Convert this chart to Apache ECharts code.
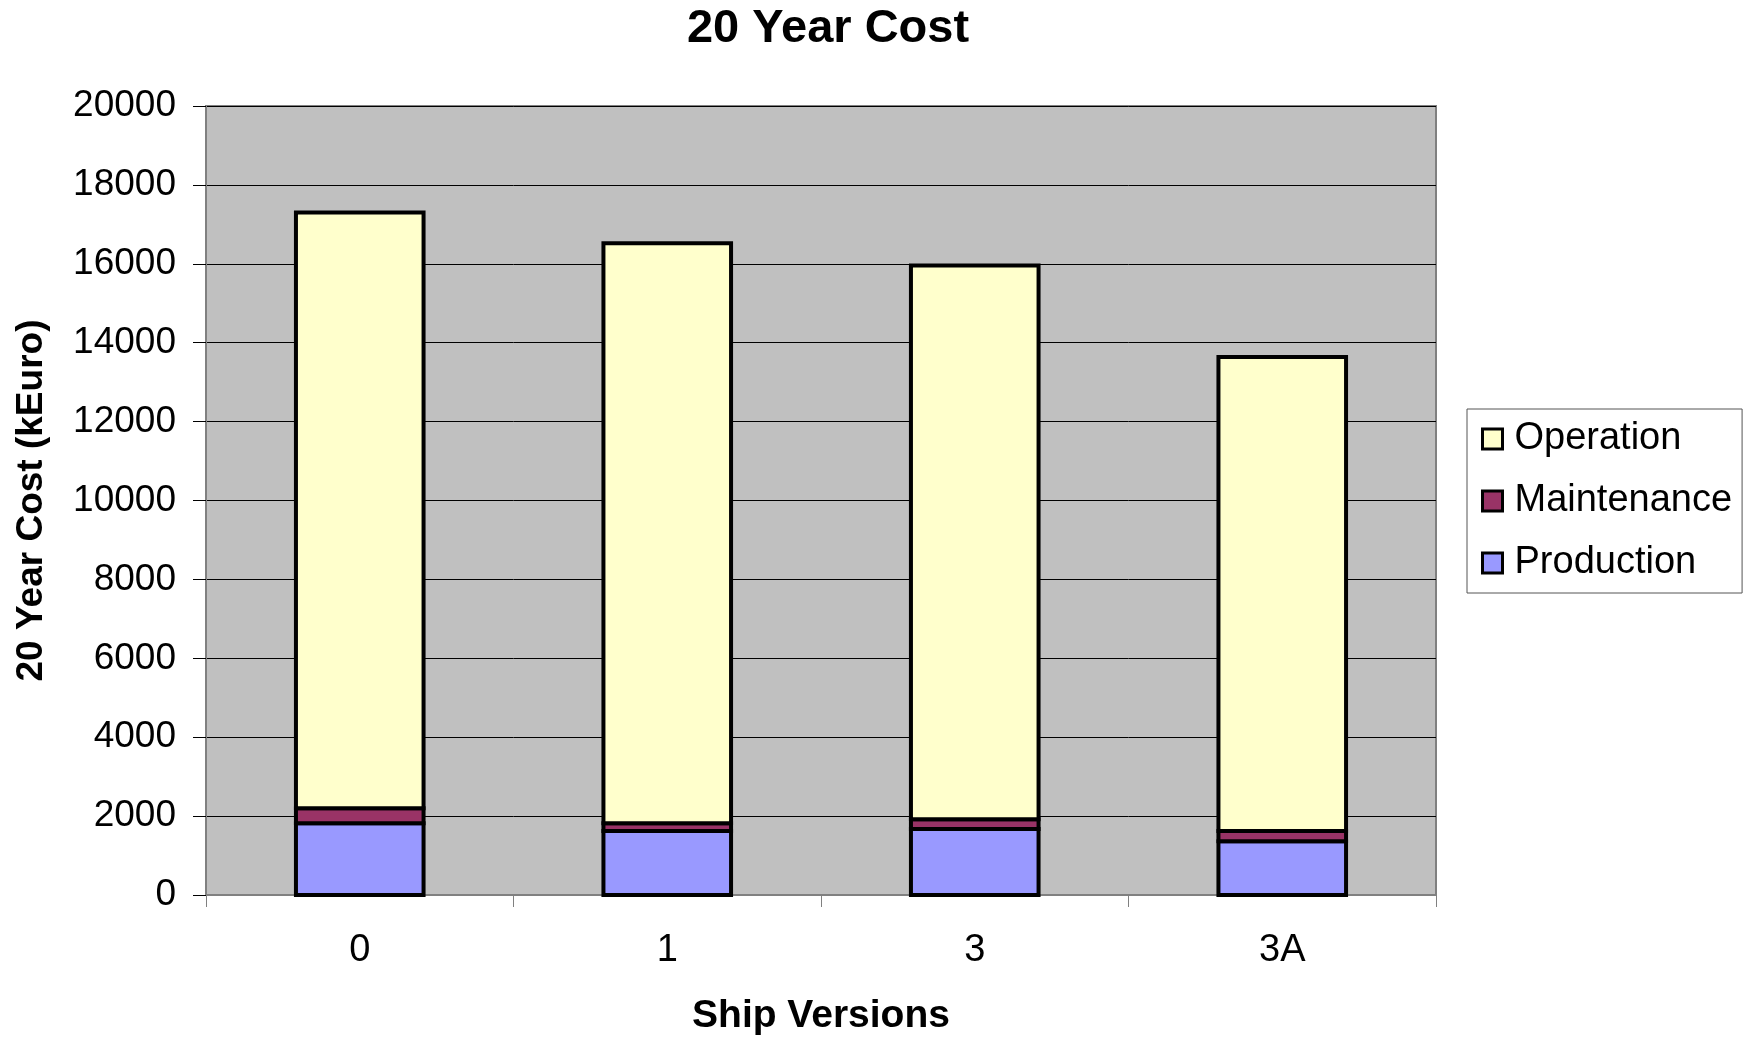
<!DOCTYPE html>
<html>
<head>
<meta charset="utf-8">
<title>20 Year Cost</title>
<script src="https://cdn.jsdelivr.net/npm/echarts@6/dist/echarts.min.js"></script>
<style>
  html, body { margin: 0; padding: 0; background: #ffffff; }
  #chart { width: 1743px; height: 1037px; }
</style>
</head>
<body>
<div id="chart"></div>
<script>
// Ship versions on the category axis
const versions = ['0', '1', '3', '3A'];

// Cost components over 20 years, kEuro
const production = [1820, 1620, 1670, 1360];
const maintenance = [380, 200, 250, 260];
const operation = [15100, 14700, 14040, 12020];

// Value axis range
const yMin = 0;
const yMax = 20000;
const yStep = 2000;

const FONT = '"Liberation Sans", Arial, sans-serif';
const BAR_RATIO = 0.415;

const chart = echarts.init(document.getElementById('chart'), null, { renderer: 'canvas' });

// Stack the components bottom-up: each item is [category index, base, top]
const layers = [
  { name: 'Production', values: production, color: '#9999ff' },
  { name: 'Maintenance', values: maintenance, color: '#993366' },
  { name: 'Operation', values: operation, color: '#ffffcc' }
];
const running = versions.map(() => 0);
const stacked = layers.map(layer => {
  const items = layer.values.map((v, i) => {
    const base = running[i];
    running[i] = base + v;
    return [i, base, base + v];
  });
  return Object.assign({}, layer, { items: items });
});

// Segment rectangles with the outline centred on the edges, so that
// neighbouring segments share a single dividing line
function renderSegment(params, api) {
  const idx = api.value(0);
  const p0 = api.coord([idx, api.value(1)]);
  const p1 = api.coord([idx, api.value(2)]);
  const w = api.size([1, 0])[0] * BAR_RATIO;
  return {
    type: 'rect',
    shape: { x: p0[0] - w / 2, y: p1[1], width: w, height: p0[1] - p1[1] },
    style: { fill: api.visual('color'), stroke: '#000000', lineWidth: 4 }
  };
}

chart.setOption({
  animation: false,
  backgroundColor: '#ffffff',
  title: {
    text: '20 Year Cost',
    left: 823,
    top: 1,
    textAlign: 'center',
    textStyle: { fontFamily: FONT, fontWeight: 'bold', fontSize: 47, color: '#000000' }
  },
  legend: {
    orient: 'vertical',
    left: 1467,
    top: 409,
    data: ['Operation', 'Maintenance', 'Production'],
    icon: 'rect',
    itemWidth: 20,
    itemHeight: 20,
    itemGap: 22,
    padding: [10, 10, 10, 14],
    backgroundColor: '#ffffff',
    borderColor: '#555555',
    borderWidth: 1,
    itemStyle: { borderColor: '#000000', borderWidth: 3 },
    textStyle: { fontFamily: FONT, fontSize: 38, color: '#000000', lineHeight: 40, padding: [0, 0, 0, 7] },
    selectedMode: false
  },
  grid: {
    left: 206,
    top: 106,
    width: 1230,
    height: 789,
    show: true,
    backgroundColor: '#c0c0c0',
    borderColor: '#808080',
    borderWidth: 2,
    containLabel: false,
    outerBoundsMode: 'none'
  },
  xAxis: {
    type: 'category',
    data: versions,
    boundaryGap: true,
    name: 'Ship Versions',
    nameLocation: 'middle',
    nameGap: 102,
    nameTextStyle: { fontFamily: FONT, fontWeight: 'bold', fontSize: 39, color: '#000000' },
    axisLine: { show: true, lineStyle: { color: '#808080', width: 2 } },
    axisTick: { show: true, alignWithLabel: false, length: 12, lineStyle: { color: '#808080', width: 1 } },
    axisLabel: { fontFamily: FONT, fontSize: 38, color: '#000000', margin: 37 },
    splitLine: { show: false }
  },
  yAxis: {
    type: 'value',
    min: yMin,
    max: yMax,
    interval: yStep,
    name: '20 Year Cost (kEuro)',
    nameLocation: 'middle',
    nameGap: 156,
    nameRotate: 90,
    nameTextStyle: { fontFamily: FONT, fontWeight: 'bold', fontSize: 37, color: '#000000' },
    axisLine: { show: true, lineStyle: { color: '#808080', width: 2 } },
    axisTick: { show: true, inside: false, length: 13, lineStyle: { color: '#000000', width: 1 } },
    axisLabel: {
      fontFamily: FONT, fontSize: 37, color: '#000000', margin: 30,
      formatter: function (v) { return String(v); }
    },
    splitLine: { show: true, lineStyle: { color: '#000000', width: 1 } }
  },
  series: stacked.map(layer => ({
    name: layer.name,
    type: 'custom',
    renderItem: renderSegment,
    encode: { x: 0, y: [1, 2] },
    data: layer.items,
    itemStyle: { color: layer.color },
    emphasis: { disabled: true },
    z: 2
  }))
});
</script>
</body>
</html>
